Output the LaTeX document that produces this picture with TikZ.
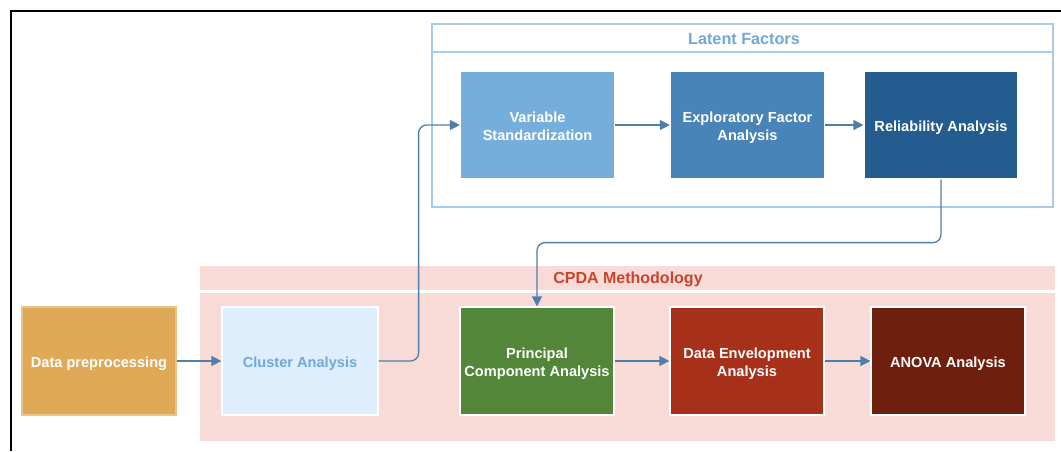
\documentclass[tikz,border=0pt]{standalone}
\usepackage{fontspec}
\setmainfont{Liberation Sans}
\usetikzlibrary{arrows.meta,positioning}
\definecolor{lfborder}{HTML}{A8CBEC}
\definecolor{lftext}{HTML}{6FA8DC}
\definecolor{cvs}{HTML}{75ADDB}
\definecolor{cefa}{HTML}{4884B7}
\definecolor{crel}{HTML}{245C90}
\definecolor{cpdabg}{HTML}{F8DAD6}
\definecolor{cpdatext}{HTML}{C9442C}
\definecolor{cprep}{HTML}{DFA958}
\definecolor{cclus}{HTML}{DEEEFC}
\definecolor{cpca}{HTML}{538639}
\definecolor{cdea}{HTML}{A6301A}
\definecolor{canova}{HTML}{6F1F0E}
\definecolor{arr}{HTML}{4E7FA8}
\newcommand{\boxtxt}[1]{\raisebox{-2.5pt}[\height][\depth]{\begin{tabular}{@{}c@{}}#1\end{tabular}}}
\tikzset{
  procbox/.style={draw=white, line width=1.2pt, minimum width=154pt, minimum height=108pt,
    inner sep=0pt, font=\fontsize{14.6}{18}\selectfont\bfseries, text=white},
  flow/.style={draw=arr, line width=1.3pt, -{Triangle[length=10pt,width=10pt]}, rounded corners=8pt},
}
\begin{document}
\begin{tikzpicture}[x=1pt,y=-1pt]
\useasboundingbox (0,0) rectangle (1061,451);
% outer frame
\draw[black, line width=2.5pt] (1061,11) -- (11,11) -- (11,451);
% Latent Factors container
\node[draw=lfborder, line width=1.3pt, fill=white, minimum width=621pt, minimum height=183pt, inner sep=0pt] (lf) at (742.5,115.5) {};
\draw[lfborder, line width=1.3pt] (432,52) -- (1053,52);
\node[text=lftext, font=\fontsize{16.2}{18}\selectfont\bfseries] (lft) at (744,39) {Latent Factors};
% CPDA container
\node[fill=cpdabg, minimum width=855pt, minimum height=24pt, inner sep=0pt] (cph) at (627.5,278) {};
\node[fill=cpdabg, minimum width=855pt, minimum height=148pt, inner sep=0pt] (cpb) at (627.5,367) {};
\node[text=cpdatext, font=\fontsize{16}{18}\selectfont\bfseries] (cpt) at (628,279) {CPDA Methodology};
% boxes
\node[procbox, fill=cvs] (vs) at (537.5,125) {\boxtxt{Variable\\Standardization}};
\node[procbox, fill=cefa] (efa) at (747.5,125) {\boxtxt{Exploratory Factor\\Analysis}};
\node[procbox, fill=crel] (rel) at (941,125) {\boxtxt{Reliability Analysis}};
\node[procbox, fill=cprep, draw=cprep!70!white] (prep) at (99,361) {\boxtxt{Data preprocessing}};
\node[procbox, fill=cclus, text=lftext, minimum width=156pt] (clus) at (300,361) {\boxtxt{Cluster Analysis}};
\node[procbox, fill=cpca] (pca) at (537,361) {\boxtxt{Principal\\Component Analysis}};
\node[procbox, fill=cdea] (dea) at (747,361) {\boxtxt{Data Envelopment\\Analysis}};
\node[procbox, fill=canova] (anova) at (948,361) {\boxtxt{ANOVA Analysis}};
% connectors
\draw[flow] (prep) -- (clus);
\draw[flow] (clus.east) -- ++(40,0) |- (vs.west);
\draw[flow] (vs) -- (efa);
\draw[flow] (efa) -- (rel);
\draw[flow] (rel.south) -- ++(0,63) -| (pca.north);
\draw[flow] (pca) -- (dea);
\draw[flow] (dea) -- (anova);
\end{tikzpicture}
\end{document}
